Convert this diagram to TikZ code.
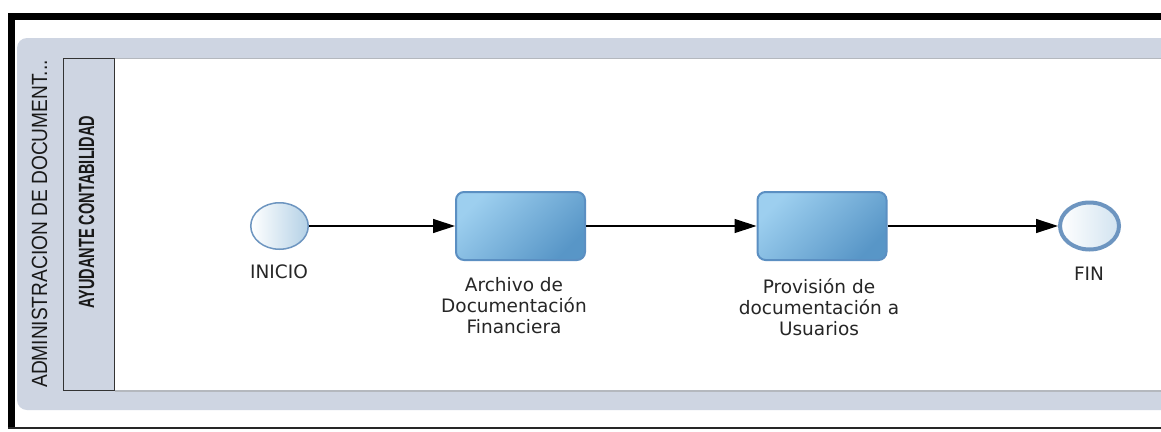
\documentclass[tikz,border=0pt]{standalone}
\usepackage{fontspec}
\setmainfont{DejaVu Sans}
\newfontfamily\poolfont[FakeStretch=0.87]{Liberation Sans}
\newfontfamily\lanefont[FakeStretch=0.66]{Liberation Sans}
\usepackage{xcolor}
\usepackage{tikz}
\usetikzlibrary{shapes.geometric}
\usetikzlibrary{arrows.meta}

\definecolor{poolgray}{HTML}{CED5E2}
\definecolor{lanegray}{HTML}{B4B8BE}
\definecolor{evblue}{HTML}{6D95C0}
\definecolor{evlight}{HTML}{B4D1E6}
\definecolor{tasklight}{HTML}{9DCFEF}
\definecolor{taskdark}{HTML}{5896C7}
\definecolor{taskedge}{HTML}{5B8FC2}
\definecolor{lblgray}{HTML}{262626}

\tikzset{
	startev/.style={ellipse, draw=evblue, line width=1.5pt, minimum width=57.5pt, minimum height=46.5pt, inner sep=0pt, left color=white, right color=evlight},
	endev/.style={ellipse, draw=evblue, line width=4pt, minimum width=59pt, minimum height=47pt, inner sep=0pt, left color=white, right color=evlight!60},
	task/.style={rectangle, rounded corners=8pt, draw=taskedge, line width=2pt, minimum width=129pt, minimum height=68pt, top color=tasklight, bottom color=taskdark, shading angle=45},
	lbl/.style={text=lblgray, font=\fontsize{18.5}{21}\selectfont, align=center, inner sep=0pt},
	flow/.style={line width=1.3pt, black, -{Triangle[length=22pt, width=14pt]}},
}

\begin{document}
\begin{tikzpicture}[x=1pt, y=-1pt]

	\useasboundingbox (0,0) rectangle (1161,431);
	\fill[white] (0,0) rectangle (1161,431);

	% pool and lane
	\fill[poolgray, rounded corners=10pt] (17,38) rectangle (1180,410);
	\fill[white] (115,58) rectangle (1180,391);
	\draw[lanegray, line width=1.5pt] (115,58.5)--(1161,58.5);
	\draw[lanegray, line width=1.5pt] (115,391)--(1161,391);
	\draw[fill=poolgray, draw=black!80, line width=1.2pt] (63.5,58.5) rectangle (114.5,390.5);

	% frame
	\fill[black] (7.5,12.5) rectangle (1161,20);
	\fill[black] (7.5,12.5) rectangle (15,429);
	\fill[black!85] (7.5,427) rectangle (1161,429);

	\node[rotate=90, inner sep=0pt, text=black!90, font=\poolfont\fontsize{22}{22}\selectfont] (pool) at (39.5,224) {ADMINISTRACION DE DOCUMENT...};
	\node[rotate=90, inner sep=0pt, text=black!90, font=\lanefont\bfseries\fontsize{22}{22}\selectfont] (lane) at (86.5,212) {AYUDANTE CONTABILIDAD};

	\coordinate (i) at (279.5,226);
	\coordinate (t1) at (520.5,226);
	\coordinate (t2) at (822,226);
	\coordinate (f) at (1089.5,226);

	\node[startev] (inicio) at (i) {};
	\node[task] (archivo) at (t1) {};
	\node[task] (provision) at (t2) {};
	\node[endev] (fin) at (f) {};

	\node[lbl, anchor=base] (inicioT) at (279,278) {INICIO};
	\node[lbl, anchor=north] (archivoT) at (514,277) {Archivo de\\Documentación\\Financiera};
	\node[lbl, anchor=north] (provisionT) at (819,278) {Provisión de\\documentación a\\Usuarios};
	\node[lbl, anchor=base] (finT) at (1089,280) {FIN};

	\draw[flow] (inicio)--(archivo);
	\draw[flow] (archivo)--(provision);
	\draw[flow] (provision)--(fin);

\end{tikzpicture}
\end{document}
